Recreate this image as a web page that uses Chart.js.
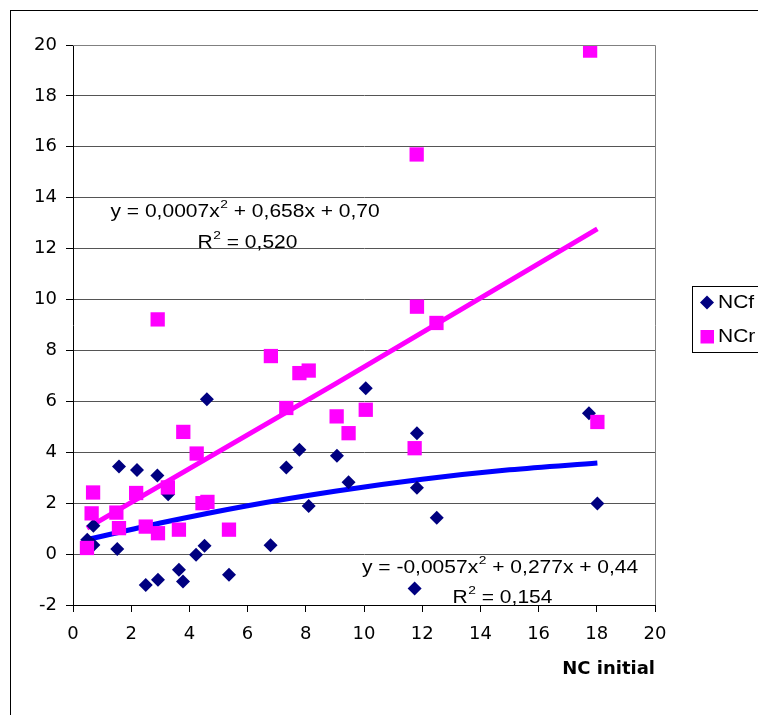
<!DOCTYPE html>
<html><head><meta charset="utf-8">
<script src="https://cdn.jsdelivr.net/npm/chart.js@4.4.0/dist/chart.umd.min.js"></script>
<style>html,body{margin:0;padding:0;background:#fff;overflow:hidden}#wrap{width:758px;height:715px;position:relative}</style>
</head><body><div id="wrap"><canvas id="c" width="758" height="715"></canvas></div>
<script>
// ---- data ----
const seriesNames = ['NCf', 'NCr'];
const ncfX = [0.49, 0.70, 0.70, 1.52, 1.58, 2.20, 2.50, 2.90, 2.92, 3.27, 3.64, 3.78, 4.23, 4.52, 4.60, 5.36, 6.79, 7.33, 7.78, 8.10, 9.07, 9.47, 10.06, 11.74, 11.82, 11.82, 12.50, 17.73, 18.02];
const ncfY = [0.56, 0.36, 1.11, 0.20, 3.44, 3.30, -1.21, 3.09, -1.01, 2.35, -0.62, -1.08, -0.03, 0.33, 6.08, -0.81, 0.35, 3.40, 4.10, 1.89, 3.86, 2.82, 6.52, -1.35, 4.75, 2.61, 1.43, 5.53, 1.99];
const ncrX = [0.48, 0.64, 0.69, 1.49, 1.58, 2.17, 2.50, 2.91, 2.92, 3.26, 3.64, 3.79, 4.25, 4.45, 4.62, 5.36, 6.80, 7.33, 7.78, 8.10, 9.06, 9.47, 10.06, 11.74, 11.81, 11.82, 12.49, 17.77, 18.02];
const ncrY = [0.24, 1.60, 2.42, 1.63, 1.02, 2.40, 1.08, 9.22, 0.82, 2.62, 0.96, 4.80, 3.95, 2.00, 2.05, 0.96, 7.78, 5.74, 7.11, 7.21, 5.41, 4.75, 5.67, 4.16, 15.70, 9.72, 9.08, 19.78, 5.19];
// trend lines
const trendFX = [0.49, 3, 6, 9, 12, 15, 18.02];
const trendFY = [0.57, 1.22, 1.90, 2.47, 2.94, 3.31, 3.58];
const trendRX = [0.48, 9, 18.02];
const trendRY = [1.02, 6.68, 12.78];
const xTicks = [0, 2, 4, 6, 8, 10, 12, 14, 16, 18, 20];
const yTicks = [-2, 0, 2, 4, 6, 8, 10, 12, 14, 16, 18, 20];
const xTitle = 'NC initial';
const eqR = ['y = 0,0007x', '2', ' + 0,658x + 0,70'];
const r2R = ['R', '2', ' = 0,520'];
const eqF = ['y = -0,0057x', '2', ' + 0,277x + 0,44'];
const r2F = ['R', '2', ' = 0,154'];

const TXT = "'Liberation Sans', Arial, sans-serif";
const AXF = "'DejaVu Sans', sans-serif";
const SX = 1.2; // horizontal stretch of the reference text
Chart.defaults.font.family = AXF;
Chart.defaults.color = '#000';

const pts = (xs, ys) => xs.map((x, i) => ({x: x, y: ys[i]}));

function drawSup(ctx, parts, x, y) {
  ctx.save();
  ctx.translate(x, y);
  ctx.scale(SX, 1);
  ctx.fillStyle = '#000';
  ctx.textBaseline = 'middle';
  ctx.textAlign = 'left';
  let cx = 0;
  ctx.font = '17.5px ' + TXT;
  ctx.fillText(parts[0], cx, 0);
  cx += ctx.measureText(parts[0]).width;
  ctx.font = '11.5px ' + TXT;
  ctx.fillText(parts[1], cx + 0.5, -7);
  cx += ctx.measureText(parts[1]).width + 0.5;
  ctx.font = '17.5px ' + TXT;
  ctx.fillText(parts[2], cx, 0);
  ctx.restore();
}

function drawTxt(ctx, s, x, y) {
  ctx.save();
  ctx.translate(x, y);
  ctx.scale(SX, 1);
  ctx.fillStyle = '#000';
  ctx.font = '17.5px ' + TXT;
  ctx.textBaseline = 'middle';
  ctx.textAlign = 'left';
  ctx.fillText(s, 0, 0);
  ctx.restore();
}

const decor = {
  id: 'decor',
  beforeDraw(chart) {
    const ctx = chart.ctx;
    ctx.save();
    ctx.fillStyle = '#fff';
    ctx.fillRect(0, 0, chart.width, chart.height);
    ctx.strokeStyle = '#000';
    ctx.lineWidth = 1;
    ctx.strokeRect(10.5, 10.5, 900, 900);
    ctx.restore();
  },
  afterDraw(chart) {
    const ctx = chart.ctx;
    const a = chart.chartArea;
    ctx.save();
    // plot area border (top + right)
    ctx.strokeStyle = '#808080';
    ctx.lineWidth = 1;
    ctx.beginPath();
    ctx.moveTo(a.left, Math.round(a.top) + 0.5);
    ctx.lineTo(Math.round(a.right) + 0.5, Math.round(a.top) + 0.5);
    ctx.lineTo(Math.round(a.right) + 0.5, a.bottom);
    ctx.stroke();
    // trendline equations
    drawSup(ctx, eqR, 110.5, 212);
    drawSup(ctx, r2R, 197.5, 243);
    drawSup(ctx, eqF, 362, 568);
    drawSup(ctx, r2F, 452.5, 598);
    // legend
    const lx = Math.round(a.right) + 37;
    ctx.strokeStyle = '#000';
    ctx.strokeRect(lx + 0.5, 286.5, 200, 66);
    const ds = chart.data.datasets;
    ctx.fillStyle = ds[0].backgroundColor;
    ctx.beginPath();
    ctx.moveTo(lx + 8, 302.5); ctx.lineTo(lx + 15, 295.5); ctx.lineTo(lx + 22, 302.5); ctx.lineTo(lx + 15, 309.5); ctx.closePath();
    ctx.fill();
    ctx.fillStyle = ds[1].backgroundColor;
    ctx.fillRect(lx + 8.5, 330, 13.5, 13.5);
    drawTxt(ctx, seriesNames[0], lx + 26, 303);
    drawTxt(ctx, seriesNames[1], lx + 26, 337);
    ctx.restore();
  }
};

new Chart(document.getElementById('c'), {
  type: 'scatter',
  data: {
    datasets: [
      {label: seriesNames[0], data: pts(ncfX, ncfY), pointStyle: 'rectRot', pointRadius: 7, pointHoverRadius: 7,
       backgroundColor: '#000080', borderColor: '#000080', borderWidth: 0, order: 1},
      {label: seriesNames[1], data: pts(ncrX, ncrY), pointStyle: 'rect', pointRadius: 10.1, pointHoverRadius: 10.1,
       backgroundColor: '#FF00FF', borderColor: '#FF00FF', borderWidth: 0, order: 0},
      {label: 'trend NCr', data: pts(trendRX, trendRY), showLine: true, pointRadius: 0, borderColor: '#FF00FF',
       backgroundColor: '#FF00FF', borderWidth: 5, order: 2},
      {label: 'trend NCf', data: pts(trendFX, trendFY), showLine: true, pointRadius: 0, borderColor: '#0000FF',
       backgroundColor: '#0000FF', borderWidth: 5, cubicInterpolationMode: 'monotone', order: 2}
    ]
  },
  options: {
    responsive: false,
    devicePixelRatio: 1,
    animation: false,
    layout: {padding: {left: 0, right: 103, top: 45, bottom: 0}},
    plugins: {legend: {display: false}, tooltip: {enabled: false}},
    scales: {
      x: {
        type: 'linear', min: 0, max: 20,
        afterBuildTicks: s => { s.ticks = xTicks.map(v => ({value: v})); },
        afterFit: s => { s.height = 110; },
        grid: {drawOnChartArea: false, drawTicks: true, tickLength: 7, tickColor: '#000'},
        border: {display: true, color: '#000', width: 1},
        ticks: {color: '#000', font: {size: 18}, padding: 12, maxRotation: 0},
        title: {display: true, text: xTitle, align: 'end', color: '#000',
                font: {size: 18, weight: 'bold'}, padding: {top: 4, bottom: 35}}
      },
      y: {
        type: 'linear', min: -2, max: 20,
        afterBuildTicks: s => { s.ticks = yTicks.map(v => ({value: v})); },
        afterFit: s => { s.width = 73; },
        grid: {color: '#555', lineWidth: 1, drawTicks: true, tickLength: 7, tickColor: '#000'},
        border: {display: true, color: '#000', width: 1},
        ticks: {color: '#000', font: {size: 18}, padding: 9}
      }
    }
  },
  plugins: [decor]
});
</script>
</body></html>
